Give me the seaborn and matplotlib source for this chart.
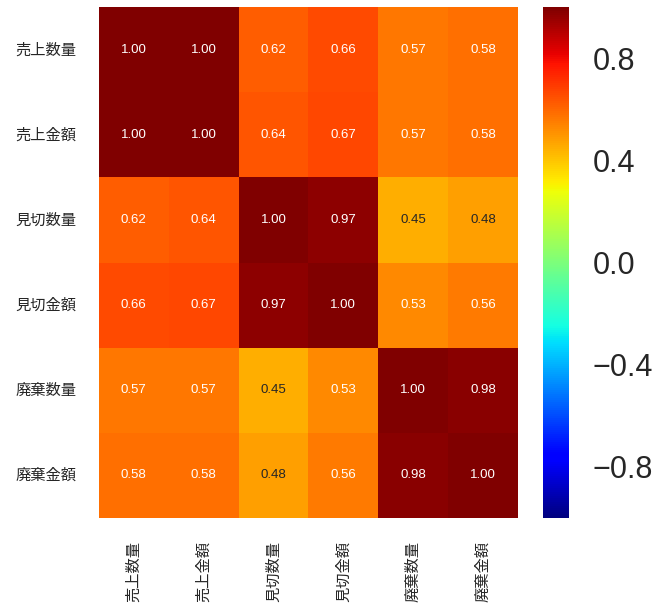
import numpy as np
import pandas as pd
import matplotlib
matplotlib.use("Agg")
import matplotlib.pyplot as plt
import seaborn as sns

sns.set_theme(style="white")
plt.rcParams['font.family'] = ['Noto Sans CJK JP', 'DejaVu Sans']

labels = ["売上数量", "売上金額", "見切数量", "見切金額", "廃棄数量", "廃棄金額"]
row_sales_qty = [1.00, 1.00, 0.62, 0.66, 0.57, 0.58]
row_sales_amt = [1.00, 1.00, 0.64, 0.67, 0.57, 0.58]
row_mark_qty = [0.62, 0.64, 1.00, 0.97, 0.45, 0.48]
row_mark_amt = [0.66, 0.67, 0.97, 1.00, 0.53, 0.56]
row_waste_qty = [0.57, 0.57, 0.45, 0.53, 1.00, 0.98]
row_waste_amt = [0.58, 0.58, 0.48, 0.56, 0.98, 1.00]

df = pd.DataFrame([row_sales_qty, row_sales_amt, row_mark_qty,
                   row_mark_amt, row_waste_qty, row_waste_amt],
                  index=labels, columns=labels)

fig = plt.figure(figsize=(6.64, 6.07), dpi=100)
ax = fig.add_axes([0.149, 0.147, 0.631, 0.841])
cax = fig.add_axes([0.818, 0.147, 0.039, 0.841])

sns.heatmap(df, ax=ax, cbar_ax=cax, cmap="jet", vmin=-1, vmax=1,
            annot=True, fmt=".2f",
            annot_kws={"size": 9.5, "family": ["Liberation Sans", "DejaVu Sans"]})

ax.tick_params(axis='both', length=0, labelsize=11, colors="#262626")
ax.set_xticklabels(labels, rotation=90)
ax.set_yticklabels(labels, rotation=0)
ax.tick_params(axis='x', pad=16.5)
ax.tick_params(axis='y', pad=16.5)

cax.set_yticks([0.8, 0.4, 0.0, -0.4, -0.8])
cax.tick_params(length=0, labelsize=22, colors="#262626", pad=17)
for t in cax.get_yticklabels():
    t.set_family(["Liberation Sans", "DejaVu Sans"])

fig.savefig("out.png", dpi=100)
